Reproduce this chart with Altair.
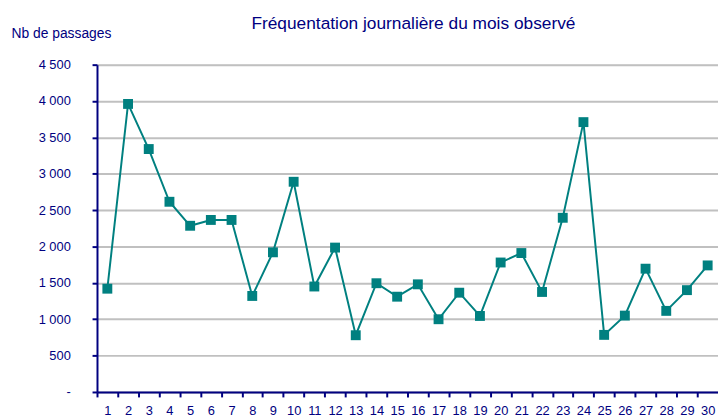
import altair as alt
import pandas as pd

days = list(range(1, 31))
passages = [1420, 3960, 3340, 2615, 2285, 2365, 2365, 1320, 1920, 2890,
            1450, 1985, 780, 1495, 1310, 1480, 1000, 1365, 1045, 1780,
            1910, 1375, 2395, 3710, 785, 1050, 1695, 1115, 1400, 1740]
y_ticks = [0, 500, 1000, 1500, 2000, 2500, 3000, 3500, 4000, 4500]

df = pd.DataFrame({"day": days, "passages": passages})

NAVY = "#000080"
TEAL = "#008080"
FONT = "Liberation Sans"
W, H = 628, 331
step = W / len(days)
nb = chr(160)

base = alt.Chart(df).encode(
    x=alt.X(
        "day:O",
        scale=alt.Scale(type="point", padding=0.5),
        axis=alt.Axis(
            title=None, labelAngle=0, labelOverlap=False,
            tickOffset=-step / 2, labelOffset=step / 2,
            tickSize=5, tickWidth=2, tickColor=NAVY,
            domainColor=NAVY, domainWidth=2, labelPadding=8,
            labelColor=NAVY, labelFont=FONT, labelFontSize=13, grid=False,
        ),
    ),
    y=alt.Y(
        "passages:Q",
        scale=alt.Scale(domain=[0, 4500], nice=False),
        axis=alt.Axis(
            values=y_ticks,
            labelExpr="datum.value == 0 ? '-" + nb * 3 + "' : replace(format(datum.value, ','), ',', ' ')",
            title="Nb de passages", titleAngle=0, titleX=-87, titleY=-27,
            titleAlign="left", titleBaseline="alphabetic",
            titleColor=NAVY, titleFont=FONT, titleFontSize=14, titleFontWeight="normal",
            tickSize=5, tickWidth=2, tickColor=NAVY,
            domainColor=NAVY, domainWidth=2, labelPadding=22,
            labelColor=NAVY, labelFont=FONT, labelFontSize=13,
            grid=True, gridColor="#c0c0c0", gridWidth=2,
        ),
    ),
)

line = base.mark_line(color=TEAL, strokeWidth=2)
pts = base.mark_point(shape="square", filled=True, size=100, color=TEAL, opacity=1)

chart = (line + pts).properties(
    width=W,
    height=H,
    title=alt.TitleParams(
        "Fréquentation journalière du mois observé",
        font=FONT, fontSize=17.5, fontWeight="normal", color=NAVY,
        anchor="middle", frame="group", baseline="alphabetic", offset=0, dx=6, dy=19,
    ),
    autosize=alt.AutoSizeParams(type="none"),
    padding={"left": 90, "top": 55, "right": 0, "bottom": 22},
).configure_view(stroke=None).configure(background="white")

chart.save("out.html", embed_options={"renderer": "svg", "actions": False})
